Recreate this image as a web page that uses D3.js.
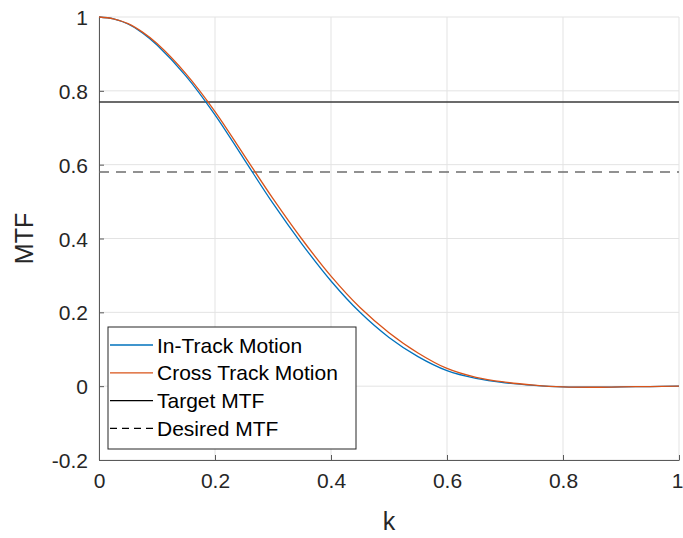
<html>
<head><meta charset="utf-8"></head>
<script src='https://d3js.org/d3.v7.min.js'></script>
<body style="margin:0; background:#fff">
<svg width=683 height=538></svg>
<script>
// spatial frequency samples
var kValues = [0, 0.025, 0.05, 0.075, 0.1, 0.15, 0.2, 0.25, 0.3, 0.35, 0.4, 0.45, 0.5,
	0.55, 0.6, 0.65, 0.7, 0.75, 0.8, 0.85, 0.9, 0.95, 1];
var inTrack = [1, 0.995, 0.981, 0.957, 0.924, 0.84, 0.735, 0.615, 0.495, 0.385, 0.285, 0.2, 0.132,
	0.08, 0.042, 0.021, 0.009, 0.002, -0.002, -0.003, -0.002, -0.001, 0];
var crossTrack = [1, 0.995, 0.982, 0.959, 0.928, 0.846, 0.744, 0.626, 0.508, 0.398, 0.298, 0.213, 0.145,
	0.09, 0.048, 0.024, 0.011, 0.003, -0.002, -0.003, -0.002, -0.001, 0];
var targetMTF = 0.77;
var desiredMTF = 0.58;
var xTicks = [0, 0.2, 0.4, 0.6, 0.8, 1];
var yTicks = [-0.2, 0, 0.2, 0.4, 0.6, 0.8, 1];
var legendNames = ["In-Track Motion", "Cross Track Motion", "Target MTF", "Desired MTF"];

var width = 683, height = 538;
var margin = {top: 17, right: 4, bottom: 78, left: 99};
var innerwidth = width - margin.left - margin.right;
var innerheight = height - margin.top - margin.bottom;
var font = "'Liberation Sans', Arial, Helvetica, sans-serif";
var blue = "#0072BD", orange = "#D95319";

var svg = d3.select("svg");
var g = svg.append("g").attr("transform", "translate(" + margin.left + "," + margin.top + ")");

var x = d3.scaleLinear().domain([0, 1]).range([0, innerwidth]);
var y = d3.scaleLinear().domain([-0.2, 1]).range([innerheight, 0]);

// grid
g.append("g").selectAll("line").data(xTicks).enter().append("line")
	.attr("x1", d => x(d)).attr("x2", d => x(d))
	.attr("y1", 0).attr("y2", innerheight)
	.attr("stroke", "#e3e3e3").attr("stroke-width", 1);
g.append("g").selectAll("line").data(yTicks).enter().append("line")
	.attr("x1", 0).attr("x2", innerwidth)
	.attr("y1", d => y(d)).attr("y2", d => y(d))
	.attr("stroke", "#e3e3e3").attr("stroke-width", 1);

// axes
var fmt = d => String(d);
var xAxis = g.append("g")
	.attr("transform", "translate(0," + innerheight + ")")
	.call(d3.axisBottom(x).tickValues(xTicks).tickSizeInner(-5).tickSizeOuter(0)
		.tickPadding(13).tickFormat(fmt));
var yAxis = g.append("g")
	.call(d3.axisLeft(y).tickValues(yTicks).tickSizeInner(-5).tickSizeOuter(0)
		.tickPadding(11).tickFormat(fmt));
[xAxis, yAxis].forEach(function(a) {
	a.select(".domain").attr("stroke", "#5a5a5a");
	a.selectAll(".tick line").attr("stroke", "#5a5a5a");
	a.selectAll(".tick text").attr("fill", "#262626")
		.style("font-family", font).style("font-size", "21px");
});
yAxis.selectAll(".tick text").attr("dy", "0.36em");
// keep the last x label inside the window
xAxis.selectAll(".tick text").filter(d => d === 1).attr("dx", "-2");

// reference lines
g.append("line")
	.attr("x1", x(0)).attr("x2", x(1))
	.attr("y1", y(targetMTF)).attr("y2", y(targetMTF))
	.attr("stroke", "#3a3a3a").attr("stroke-width", 1.5);
g.append("line")
	.attr("x1", x(0)).attr("x2", x(1))
	.attr("y1", y(desiredMTF)).attr("y2", y(desiredMTF))
	.attr("stroke", "#6e6e6e").attr("stroke-width", 1.5)
	.attr("stroke-dasharray", "10,7");

// curves
var line = d3.line()
	.x(function(d, i) { return x(kValues[i]); })
	.y(function(d) { return y(d); })
	.curve(d3.curveCatmullRom.alpha(0.5));
g.append("path").datum(inTrack)
	.attr("d", line).attr("fill", "none")
	.attr("stroke", blue).attr("stroke-width", 1.3);
g.append("path").datum(crossTrack)
	.attr("d", line).attr("fill", "none")
	.attr("stroke", orange).attr("stroke-width", 1.3);

// axis labels
svg.append("text")
	.attr("x", margin.left + innerwidth / 2).attr("y", 530)
	.attr("text-anchor", "middle")
	.style("font-family", font).style("font-size", "25px").attr("fill", "#262626")
	.text("k");
svg.append("text")
	.attr("transform", "translate(33," + (margin.top + innerheight / 2) + ") rotate(-90)")
	.attr("text-anchor", "middle")
	.style("font-family", font).style("font-size", "25px").attr("fill", "#262626")
	.text("MTF");

// legend
var legend = svg.append("g").attr("transform", "translate(108,327)");
legend.append("rect")
	.attr("x", 0).attr("y", 0).attr("width", 248).attr("height", 122)
	.attr("fill", "#fff").attr("stroke", "#262626").attr("stroke-width", 1);
var styles = [
	{color: blue, dash: null, w: 1.3},
	{color: orange, dash: null, w: 1.3},
	{color: "#000", dash: null, w: 1.3},
	{color: "#000", dash: "7,5", w: 1.3}
];
var rows = legend.selectAll(".item").data(legendNames).enter().append("g")
	.attr("class", "item")
	.attr("transform", function(d, i) { return "translate(0," + (18 + i * 27.8) + ")"; });
rows.append("line")
	.attr("x1", 2).attr("x2", 45).attr("y1", 0).attr("y2", 0)
	.attr("stroke", (d, i) => styles[i].color)
	.attr("stroke-width", (d, i) => styles[i].w)
	.attr("stroke-dasharray", (d, i) => styles[i].dash);
rows.append("text")
	.attr("x", 49).attr("dy", "0.36em")
	.style("font-family", font).style("font-size", "21px").attr("fill", "#000")
	.text(d => d);
</script>
</body>
</html>
